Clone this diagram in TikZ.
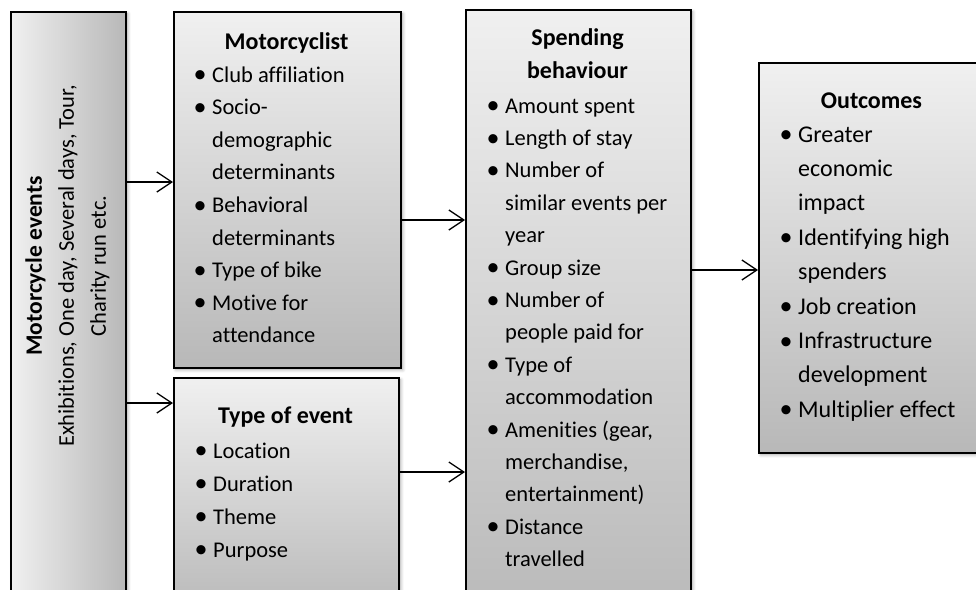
\documentclass[tikz,border=0pt]{standalone}
\usepackage{fontspec}
\setmainfont{Carlito}[Ligatures={NoCommon}]
\usetikzlibrary{arrows.meta,shadows.blur}
\definecolor{shadetop}{HTML}{F0F0F0}
\definecolor{shadebot}{HTML}{B8B8B8}
% bullet with a fixed hanging indent, and the matching indent for wrapped lines
\newcommand\bul{\makebox[17.5pt][l]{\hspace*{-1pt}\raisebox{-0.6pt}{\fontsize{26}{26}\selectfont\textbullet}}}
\newcommand\ind{\hspace*{17.5pt}}
\begin{document}
\begin{tikzpicture}[x=1pt,y=-1pt,
  panel/.style={draw=black, line width=1.6pt, inner sep=0pt, anchor=north west,
    blur shadow={shadow xshift=2pt, shadow yshift=-2pt, shadow blur radius=3pt, shadow opacity=35}},
  vshade/.style={top color=shadetop, bottom color=shadebot},
  hshade/.style={left color=shadetop, right color=shadebot},
  heading/.style={inner sep=0pt, anchor=base, font=\fontsize{24}{33}\selectfont\bfseries},
  items/.style={inner sep=0pt, anchor=base west, font=\fontsize{22.5}{#1}\selectfont},
  bigitems/.style={inner sep=0pt, anchor=base west, font=\fontsize{24}{#1}\selectfont},
  arr/.style={line width=1.3pt, -{Straight Barb[length=15pt, width=20pt, line width=1.3pt]}}]
\useasboundingbox (0,0) rectangle (976,589);
\clip (0,0) rectangle (976,589);

% boxes
\node[panel, hshade, minimum width=115pt, minimum height=620pt] (ev) at (10,11) {};
\node[panel, vshade, minimum width=227pt, minimum height=356pt] (mc) at (173,11) {};
\node[panel, vshade, minimum width=225pt, minimum height=240pt] (te) at (173,377) {};
\node[panel, vshade, minimum width=225pt, minimum height=620pt] (sp) at (465,9) {};
\node[panel, vshade, minimum width=227pt, minimum height=390pt] (oc) at (758,62) {};

% rotated event label
\node[rotate=90, inner sep=0pt, align=center, font=\fontsize{22.5}{32}\selectfont] (evtext) at (67.5,266)
  {{\fontsize{23.5}{32}\selectfont\bfseries Motorcycle events}\\Exhibitions, One day, Several days, Tour,\\Charity run etc.};

% motorcyclist
\node[heading] (mchead) at (286.5,49) {Motorcyclist};
\node[items=32.6] (mclist) at (194.5,82) {\begin{tabular}[t]{@{}l@{}}
  \bul Club affiliation\\
  \bul Socio-\\
  \ind demographic\\
  \ind determinants\\
  \bul Behavioral\\
  \ind determinants\\
  \bul Type of bike\\
  \bul Motive for\\
  \ind attendance
\end{tabular}};

% type of event
\node[heading] (tehead) at (285.5,423) {Type of event};
\node[items=33] (telist) at (195.5,458) {\begin{tabular}[t]{@{}l@{}}
  \bul Location\\
  \bul Duration\\
  \bul Theme\\
  \bul Purpose
\end{tabular}};

% spending behaviour
\node[heading] (sphead) at (577.5,45) {\begin{tabular}[t]{@{}c@{}}Spending\\behaviour\end{tabular}};
\node[items=32.4] (splist) at (487.5,113) {\begin{tabular}[t]{@{}l@{}}
  \bul Amount spent\\
  \bul Length of stay\\
  \bul Number of\\
  \ind similar events per\\
  \ind year\\
  \bul Group size\\
  \bul Number of\\
  \ind people paid for\\
  \bul Type of\\
  \ind accommodation\\
  \bul Amenities (gear,\\
  \ind merchandise,\\
  \ind entertainment)\\
  \bul Distance\\
  \ind travelled
\end{tabular}};

% outcomes
\node[heading] (ochead) at (871.5,108) {Outcomes};
\node[bigitems=34.4] (oclist) at (780.5,142) {\begin{tabular}[t]{@{}l@{}}
  \bul Greater\\
  \ind economic\\
  \ind impact\\
  \bul Identifying high\\
  \ind spenders\\
  \bul Job creation\\
  \bul Infrastructure\\
  \ind development\\
  \bul Multiplier effect
\end{tabular}};

% connector heights
\coordinate (r1) at (0,182);
\coordinate (r2) at (0,403);
\coordinate (r3) at (0,220);
\coordinate (r4) at (0,472);
\coordinate (r5) at (0,270);

\draw[arr] (ev.east |- r1) -- (mc.west |- r1);
\draw[arr] (ev.east |- r2) -- (te.west |- r2);
\draw[arr] (mc.east |- r3) -- (sp.west |- r3);
\draw[arr] (te.east |- r4) -- (sp.west |- r4);
\draw[arr] (sp.east |- r5) -- (oc.west |- r5);
\end{tikzpicture}
\end{document}
